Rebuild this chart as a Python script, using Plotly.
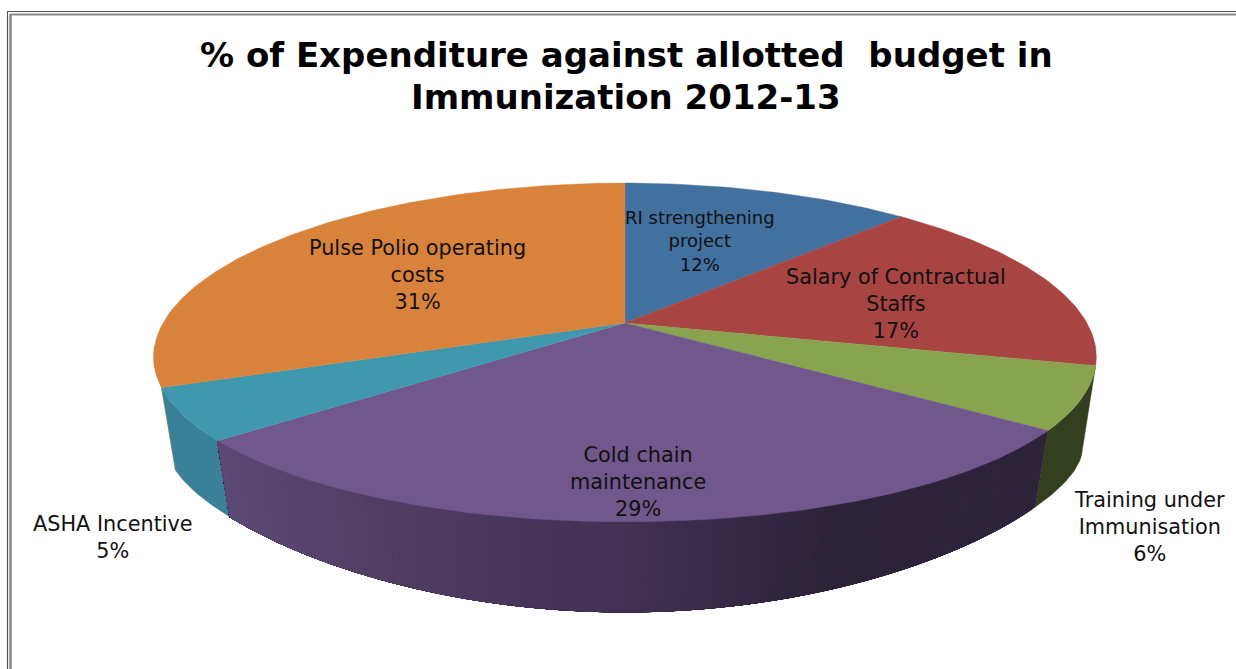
import numpy as np
import plotly.graph_objects as go

# Budget shares, clockwise from twelve o'clock
categories = ["RI strengthening<br>project", "Salary of Contractual<br>Staffs",
              "Training under<br>Immunisation", "Cold chain<br>maintenance",
              "ASHA Incentive", "Pulse Polio operating<br>costs"]
shares = [12, 17, 6, 29, 5, 31]
top_colors = ["#42709f", "#a84442", "#89a44f", "#70578c", "#4098ae", "#d9823c"]
title_lines = ["% of Expenditure against allotted  budget in", "Immunization 2012-13"]

# Perspective projection of the pie disc onto the page
CX, CY = 625.0, 323.0
KX, KY, PX, PY = 462.0, 164.3, 0.198, 0.1741
WALL_SX = 0.97


def rim_top(deg):
    a = np.radians(deg)
    u, v = np.sin(a), -np.cos(a)
    return CX + KX * u / (1 - PX * v), CY + KY * v / (1 - PY * v)


def rim_bottom(deg):
    a = np.radians(deg)
    u, v = np.sin(a), -np.cos(a)
    t = KY * v / (1 - PY * v)
    drop = 132 + 0.802 * (t - 42.7) + 0.002214 * (t - 42.7) * (t - 107.5)
    return CX + WALL_SX * KX * u / (1 - PX * v), CY + drop


def polygon(x, y, color):
    return go.Scatter(x=x, y=y, mode="lines", fill="toself", fillcolor=color,
                      line=dict(color=color, width=0.4), hoverinfo="skip", showlegend=False)


def wall(a0, a1, color):
    ang = np.linspace(a0, a1, max(int(abs(a1 - a0)) + 2, 3))
    xt, yt = rim_top(ang)
    xb, yb = rim_bottom(ang[::-1])
    return polygon(np.r_[xt, xb, xt[0]], np.r_[yt, yb, yt[0]], color)


# Shading of the long purple wall, dark on the right and lighter to the left
SHADE_X = [228, 400, 625, 830, 1040]
SHADE_RGB = [(0x5c, 0x49, 0x76), (0x4f, 0x3d, 0x63), (0x41, 0x31, 0x55), (0x2c, 0x23, 0x39), (0x2e, 0x24, 0x3a)]


def shade(x):
    return "rgb(%d,%d,%d)" % tuple(round(np.interp(x, SHADE_X, [c[i] for c in SHADE_RGB])) for i in range(3))


edges = np.r_[0, np.cumsum(shares)] * 3.6
fig = go.Figure()

# Thin orange sliver left of the teal wall: the visible part of the top rim
# closes down to a single point at the slice corner
ang = np.linspace(edges[5], 262, 16)
xt, yt = rim_top(ang)
xb, yb = rim_bottom(edges[5])
fig.add_trace(polygon(np.r_[xt, xb, xt[0]], np.r_[yt, yb, yt[0]], "#c3722f"))

fig.add_trace(wall(edges[4], edges[5], "#3a8197"))
fig.add_trace(wall(edges[2], edges[3], "#343f1f"))

# Each band runs on to the slice end, so the next one paints over it without seams
steps = np.linspace(edges[3], edges[4], 120)
for s0 in steps[:-1]:
    mid_x = rim_bottom(s0)[0]
    fig.add_trace(wall(edges[4], s0, shade(mid_x)))

# Top face of each slice
for i, color in enumerate(top_colors):
    ang = np.linspace(edges[i], edges[i + 1], int(shares[i] * 3.6) + 2)
    xt, yt = rim_top(ang)
    fig.add_trace(polygon(np.r_[CX, xt, CX], np.r_[CY, yt, CY], color))

label_pos = [(700, 241), (896, 304), (1149, 527), (638, 482), (113, 537), (417, 275)]
label_size = [18, 20.8, 20.8, 20.8, 20.8, 20.8]
for name, share, (lx, ly), size in zip(categories, shares, label_pos, label_size):
    fig.add_annotation(x=lx, y=ly, text=f"{name}<br>{share}%", showarrow=False,
                       font=dict(family="DejaVu Sans", size=size, color="#111111"),
                       align="center", xanchor="center", yanchor="middle")

for line, ty in zip(title_lines, (55, 97)):
    fig.add_annotation(x=626, y=ty, text=f"<b>{line}</b>", showarrow=False,
                       font=dict(family="DejaVu Sans", size=34, color="#000000"),
                       xanchor="center", yanchor="middle")

# Double window frame along the top and the left side
DARK, GREY = "#555555", "#888888"
frame = [
    dict(type="line", x0=7.5, x1=7.5, y0=11.5, y1=669, line=dict(color=DARK, width=1.2)),
    dict(type="line", x0=10.5, x1=10.5, y0=14, y1=669, line=dict(color=GREY, width=2.5)),
    dict(type="line", x0=7, x1=1236, y0=11.5, y1=11.5, line=dict(color=DARK, width=1.2)),
    dict(type="line", x0=10, x1=1236, y0=14.5, y1=14.5, line=dict(color=GREY, width=2)),
]

fig.update_layout(
    width=1236, height=669, margin=dict(l=0, r=0, t=0, b=0),
    paper_bgcolor="white", plot_bgcolor="white", showlegend=False, shapes=frame,
    xaxis=dict(range=[0, 1236], visible=False, fixedrange=True),
    yaxis=dict(range=[669, 0], visible=False, fixedrange=True),
)
fig.write_html("out.html")
